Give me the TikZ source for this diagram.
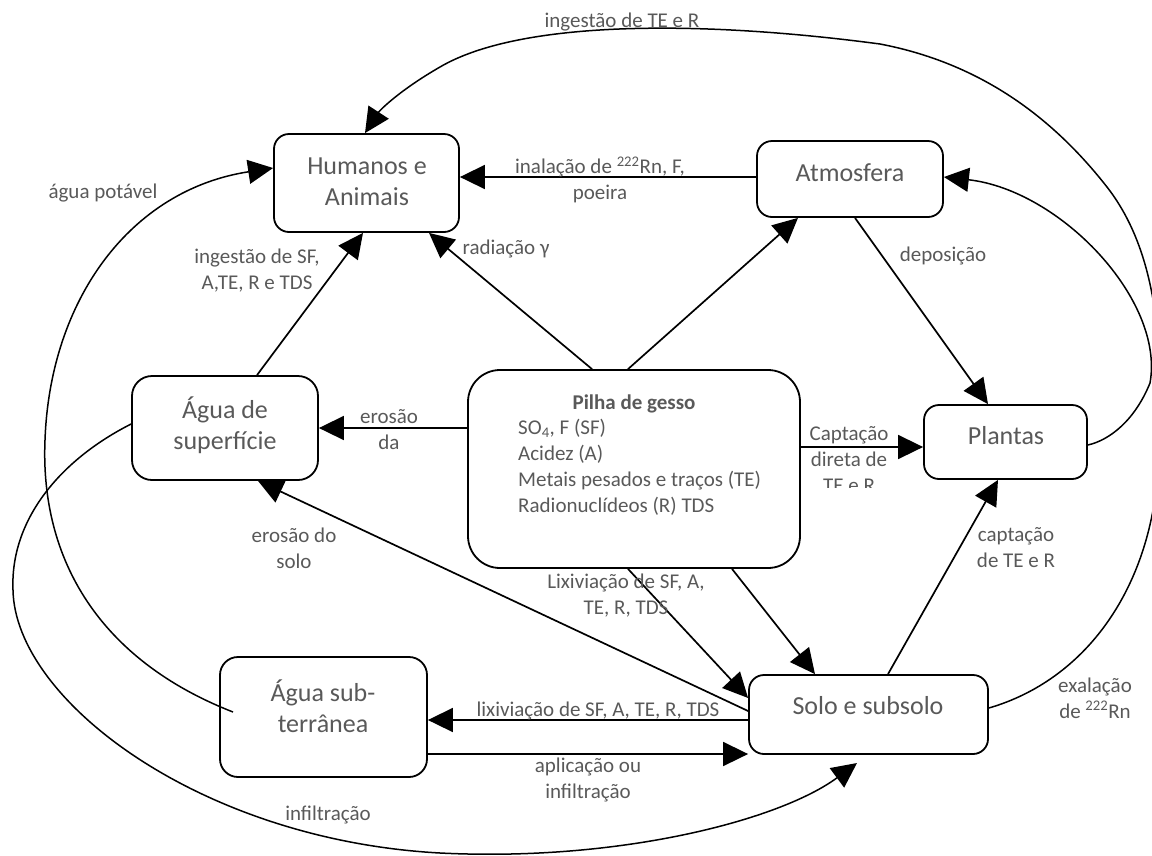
\documentclass[tikz,border=0pt]{standalone}
\usepackage{fontspec}
\setmainfont{Carlito}
\usetikzlibrary{arrows.meta}
\definecolor{tgray}{RGB}{89,89,89}
\begin{document}
\begin{tikzpicture}[x=1pt,y=-1pt,
  box/.style={draw, line width=1.8pt, rounded corners=15pt, inner sep=0pt},
  boxtxt/.style={inner sep=0pt, font=\fontsize{26}{31}\selectfont, text=tgray, align=center},
  lbl/.style={inner sep=0pt, font=\fontsize{21}{26}\selectfont, text=tgray, align=center},
  arr/.style={line width=1.7pt, -{Triangle[length=25pt,width=24pt]}},
  carr/.style={line width=1.5pt, -{Triangle[length=25pt,width=24pt]}}]
\useasboundingbox (0,0) rectangle (1152,855);

% boxes
\node[box, minimum width=185pt, minimum height=98pt] (hum) at (366.5,183) {};
\node[boxtxt] (hum-t) at (367,181.5) {Humanos e\\Animais};
\node[box, minimum width=186pt, minimum height=76pt] (atm) at (850,179) {};
\node[boxtxt] (atm-t) at (850,173) {Atmosfera};
\node[box, minimum width=186pt, minimum height=104pt, rounded corners=20pt] (aguasup) at (225,428) {};
\node[boxtxt] (aguasup-t) at (225,425) {Água de\\superfície};
\node[box, minimum width=332pt, minimum height=198pt, rounded corners=32pt] (pilha) at (634,469) {};
\node[lbl, font=\fontsize{21}{26}\selectfont\bfseries] (pilhatitle) at (634,404) {Pilha de gesso};
\node[lbl, align=left, anchor=west] (pilhalist) at (518,467) {SO\textsubscript{4}, F (SF)\\Acidez (A)\\Metais pesados e traços (TE)\\Radionuclídeos (R) TDS};
\node[box, minimum width=163pt, minimum height=74pt] (plantas) at (1005.5,442) {};
\node[boxtxt] (plantas-t) at (1006,436) {Plantas};
\node[box, minimum width=207pt, minimum height=120pt, rounded corners=18pt] (aguasub) at (323.5,717) {};
\node[boxtxt] (aguasub-t) at (323,706) {Água sub-\\terrânea};
\node[box, minimum width=239pt, minimum height=79pt] (solo) at (868.5,714.5) {};
\node[boxtxt] (solo-t) at (868,706) {Solo e subsolo};

% straight connectors
\draw[arr] (atm.west |- 0,177) -- (hum.east |- 0,177);
\node[lbl] (l-inal) at (600,180) {inalação de \textsuperscript{222}Rn, F,\\poeira};

\draw[arr] (pilha.north -| 592,0) -- (hum.south -| 429,0);
\node[lbl] (l-rad) at (506,249) {radiação γ};

\draw[arr] (pilha.north -| 628,0) -- (atm.south -| 798,0);

\draw[arr] (atm.south -| 855,0) -- (plantas.north -| 988,0);
\node[lbl] (l-dep) at (943,256) {deposição};

\draw[arr] (pilha.east |- 0,447) -- (plantas.west |- 0,447);
\begin{scope}
  \clip (801,405) rectangle (923,487);
  \node[lbl] (l-capd) at (849,460) {Captação\\direta de\\TE e R};
\end{scope}

\draw[arr] (solo.north -| 888,0) -- (plantas.south -| 998,0);
\node[lbl] (l-capt) at (1016,548) {captação\\de TE e R};

\draw[arr] (pilha.south -| 732,0) -- (solo.north -| 815,0);

\draw[arr] (pilha.south -| 628,0) -- (solo.west |- 0,698);
\node[lbl] (l-lix) at (626,596) {Lixiviação de SF, A,\\TE, R, TDS};

\draw[arr] (solo.west |- 0,711) -- (aguasup.south -| 258,0);
\node[lbl] (l-eros) at (294,548) {erosão do\\solo};

\draw[arr] (solo.west |- 0,720) -- (aguasub.east |- 0,720);
\node[lbl] (l-lix2) at (598,711) {lixiviação de SF, A, TE, R, TDS};

\draw[arr] (aguasub.east |- 0,754) -- (solo.west |- 0,754);
\node[lbl] (l-apl) at (588,780) {aplicação ou\\infiltração};

\draw[arr] (pilha.west |- 0,428) -- (aguasup.east |- 0,428);
\node[lbl] (l-erda) at (389,430) {erosão\\da};

\draw[arr] (aguasup.north -| 257,0) -- (hum.south -| 363,0);
\node[lbl] (l-ingsf) at (257,271) {ingestão de SF,\\A,TE, R e TDS};

% curved connectors
\coordinate (potstart) at (233,712);
\draw[carr] (potstart) .. controls (100,660) and (40,560) .. (45,440)
  .. controls (50,300) and (130,190) .. (hum.west |- 0,168);
\node[lbl] (l-pot) at (103,193) {água potável};

\coordinate (inftip) at (857,763);
\draw[carr] (aguasup.west |- 0,424) .. controls (60,460) and (10,520) .. (13,590)
  .. controls (15,700) and (200,840) .. (440,853)
  .. controls (620,862) and (780,820) .. (inftip);
\node[lbl] (l-inf) at (328,815) {infiltração};

\draw[carr] (plantas.east |- 0,445) .. controls (1110,440) and (1135,420) .. (1150,383)
  .. controls (1165,300) and (1060,190) .. (atm.east |- 0,177);

\draw[carr] (solo.east |- 0,708) .. controls (1085,680) and (1150,590) .. (1158,470)
  .. controls (1162,380) and (1167,264) .. (1107,187)
  .. controls (1060,127) and (990,65) .. (880,44)
  .. controls (700,20) and (520,20) .. (440,67)
  .. controls (400,90) and (380,110) .. (hum.north -| 365,0);
\node[lbl] (l-ingte) at (622,22) {ingestão de TE e R};
\node[lbl] (l-exa) at (1095,698) {exalação\\de \textsuperscript{222}Rn};
\end{tikzpicture}
\end{document}
